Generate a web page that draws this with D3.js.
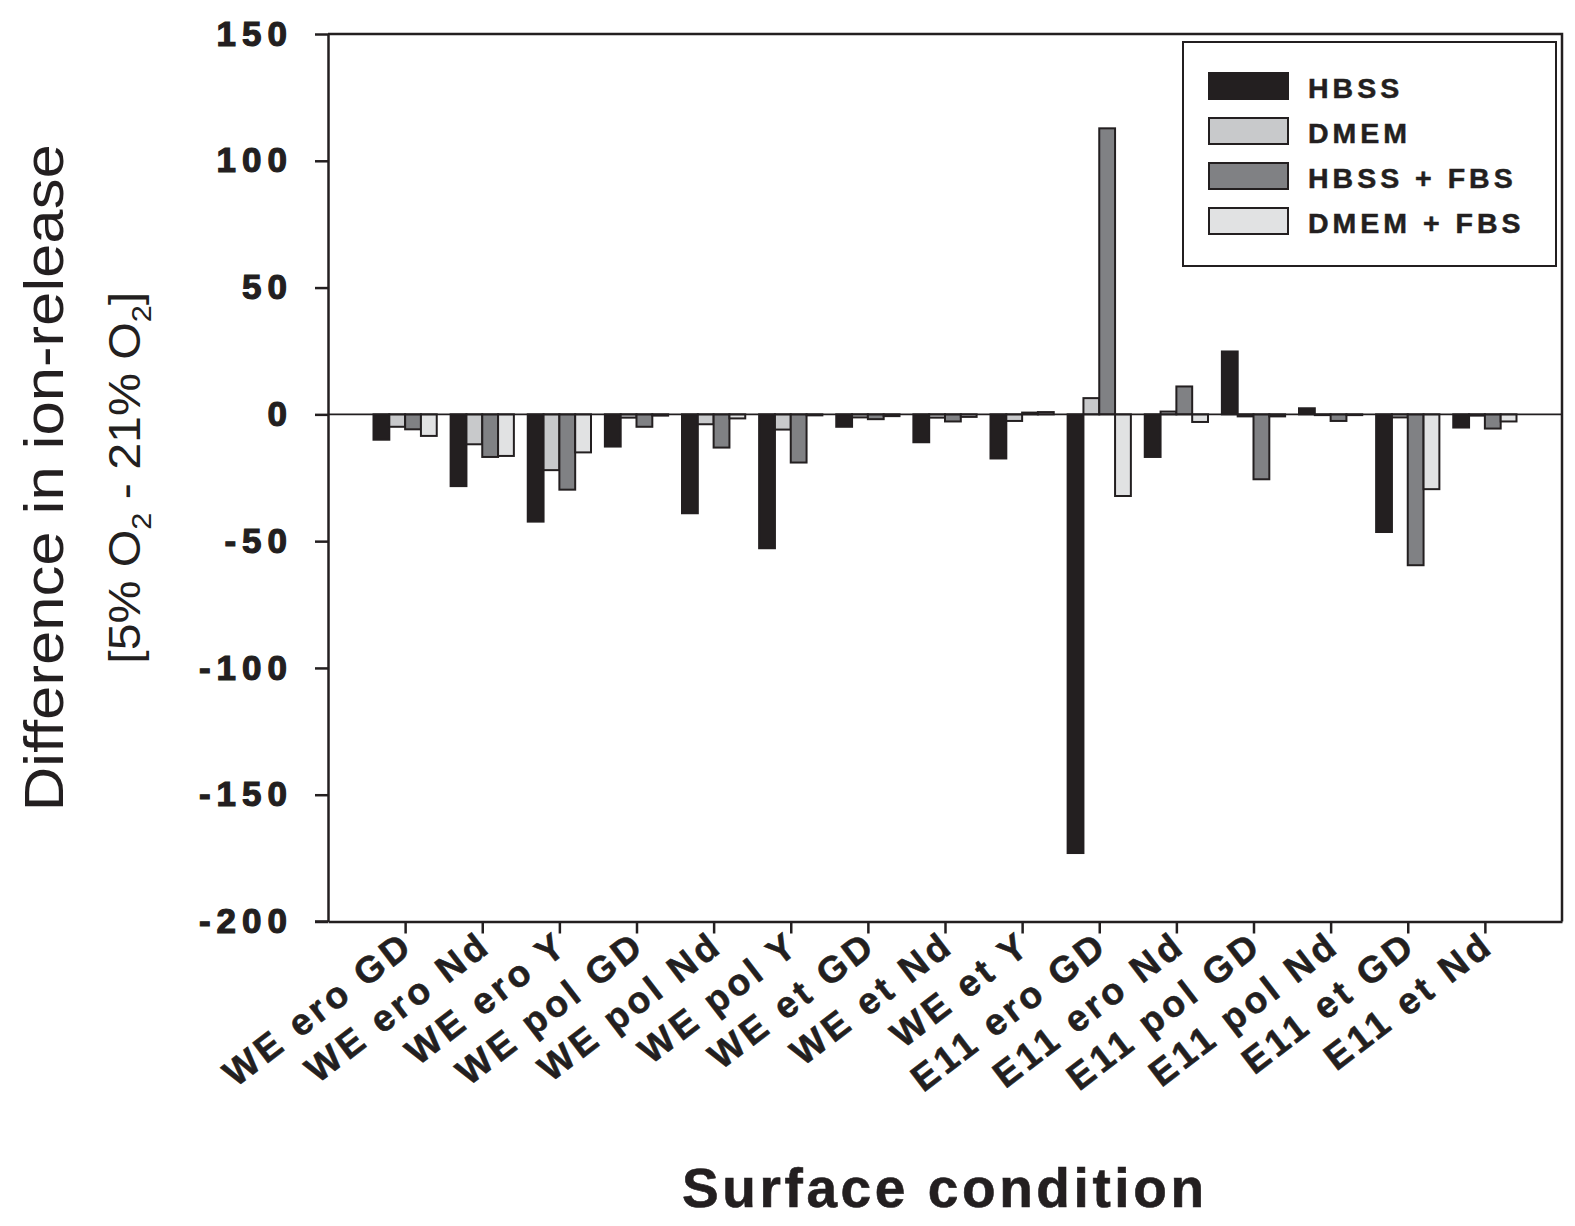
<!DOCTYPE html>
<html>
<head>
<meta charset="utf-8">
<script src="https://cdn.jsdelivr.net/npm/d3@7"></script>
<style>
  body { margin: 0; background: #fff; }
  svg text { fill: #231f20; }
</style>
</head>
<body>
<div id="chart"></div>
<script>
// categories (surface condition)
const categories = ['WE ero GD', 'WE ero Nd', 'WE ero Y', 'WE pol GD', 'WE pol Nd', 'WE pol Y',
  'WE et GD', 'WE et Nd', 'WE et Y', 'E11 ero GD', 'E11 ero Nd', 'E11 pol GD', 'E11 pol Nd',
  'E11 et GD', 'E11 et Nd'];

const seriesNames = ['HBSS', 'DMEM', 'HBSS + FBS', 'DMEM + FBS'];
const seriesColors = ['#231f20', '#c8c9cb', '#808184', '#e1e2e3'];

// difference in ion release
const hbss     = [-10, -28.3, -42.3, -12.7, -39, -52.8, -4.9, -11, -17.4, -173, -16.8, 24.8, 2.4, -46.4, -5.2];
const dmem     = [-4.9, -11.8, -22, -1.3, -3.9, -6, -1.2, -1.3, -2.6, 6.4, 1.1, -0.8, -0.3, -1.2, -0.5];
const hbssFbs  = [-5.9, -16.8, -29.7, -4.9, -13.1, -19, -1.9, -2.8, 0.7, 112.8, 11, -25.6, -2.6, -59.5, -5.6];
const dmemFbs  = [-8.5, -16.4, -15, -0.5, -1.6, -0.4, -0.7, -1, 0.9, -32.2, -3, -0.8, -0.3, -29.5, -2.8];

const yTicks = [150, 100, 50, 0, -50, -100, -150, -200];

const seriesValues = [hbss, dmem, hbssFbs, dmemFbs];

// lienzo
const width = 1575, height = 1226;
const plotLeft = 328, plotRight = 1562, plotTop = 34, plotBottom = 921.5;

const svg = d3.select('#chart').append('svg')
  .attr('width', width)
  .attr('height', height)
  .style('font-family', '"Liberation Sans", Arial, sans-serif');

// scales
const xScale = d3.scaleLinear().domain([0, categories.length + 1]).range([plotLeft, plotRight]);
const yScale = d3.scaleLinear().domain([-200, 150]).range([plotBottom, plotTop]);

const slot = xScale(1) - xScale(0);
const xSub = d3.scaleBand().domain(seriesNames).range([-slot * 0.41, slot * 0.41]);

// bars
seriesValues.forEach((vals, s) => {
  svg.append('g')
    .selectAll('rect')
    .data(vals)
    .enter()
    .append('rect')
    .attr('x', (d, i) => xScale(i + 1) + xSub(seriesNames[s]))
    .attr('width', xSub.bandwidth())
    .attr('y', d => yScale(Math.max(0, d)))
    .attr('height', d => Math.abs(yScale(d) - yScale(0)))
    .attr('fill', seriesColors[s])
    .attr('stroke', '#231f20')
    .attr('stroke-width', 2);
});

// zero line
svg.append('line')
  .attr('x1', plotLeft).attr('x2', plotRight)
  .attr('y1', yScale(0)).attr('y2', yScale(0))
  .attr('stroke', '#231f20').attr('stroke-width', 1.8);

// frame (top and right)
svg.append('path')
  .attr('d', `M${plotLeft},${plotTop}H${plotRight}V${plotBottom}`)
  .attr('fill', 'none').attr('stroke', '#231f20').attr('stroke-width', 2.5);

// eje y
const yAxis = d3.axisLeft(yScale)
  .tickValues(yTicks)
  .tickFormat(d => String(d))
  .tickSize(13).tickSizeOuter(0).tickPadding(22);
const gy = svg.append('g').attr('transform', `translate(${plotLeft},0)`).call(yAxis);
gy.select('.domain').attr('stroke', '#231f20').attr('stroke-width', 2.5);
gy.selectAll('.tick line').attr('stroke', '#231f20').attr('stroke-width', 2.5);
gy.selectAll('.tick text')
  .attr('font-size', 35)
  .attr('font-weight', 'bold')
  .attr('letter-spacing', 6)
  .attr('fill', '#231f20')
  .attr('stroke', '#231f20')
  .attr('stroke-width', 1.2);

// eje x
const xAxis = d3.axisBottom(xScale)
  .tickValues(d3.range(1, categories.length + 1))
  .tickFormat(i => categories[i - 1])
  .tickSize(12).tickSizeOuter(0);
const gx = svg.append('g').attr('transform', `translate(0,${plotBottom})`).call(xAxis);
gx.select('.domain').attr('stroke', '#231f20').attr('stroke-width', 2.5);
gx.selectAll('.tick line').attr('stroke', '#231f20').attr('stroke-width', 2.5);
gx.selectAll('.tick text')
  .attr('x', 0).attr('y', 0).attr('dy', '0.72em')
  .attr('transform', 'translate(-6,7) rotate(-37.5)')
  .attr('text-anchor', 'end')
  .attr('font-size', 37)
  .attr('font-weight', 'bold')
  .attr('letter-spacing', 3.8)
  .attr('fill', '#231f20')
  .attr('stroke', '#231f20')
  .attr('stroke-width', 0.6);
// extend bottom axis to the left tick like the original
svg.append('line')
  .attr('x1', plotLeft - 13).attr('x2', plotLeft)
  .attr('y1', plotBottom).attr('y2', plotBottom)
  .attr('stroke', '#231f20').attr('stroke-width', 2.5);

// titulos
svg.append('text')
  .attr('x', 943).attr('y', 1207)
  .attr('text-anchor', 'middle')
  .attr('font-size', 55)
  .attr('font-weight', 'bold')
  .attr('textLength', 522)
  .attr('lengthAdjust', 'spacing')
  .attr('stroke', '#231f20')
  .attr('stroke-width', 0.6)
  .text('Surface condition');

const midY = (plotTop + plotBottom) / 2;
svg.append('text')
  .attr('transform', `translate(63,${midY}) rotate(-90)`)
  .attr('text-anchor', 'middle')
  .attr('font-size', 55)
  .attr('textLength', 667)
  .attr('lengthAdjust', 'spacingAndGlyphs')
  .text('Difference in ion-release');

const sub = svg.append('text')
  .attr('transform', `translate(140,${midY}) rotate(-90)`)
  .attr('text-anchor', 'middle')
  .attr('font-size', 44)
  .attr('textLength', 372)
  .attr('lengthAdjust', 'spacingAndGlyphs');
sub.append('tspan').text('[5% O');
sub.append('tspan').attr('dy', 11).attr('font-size', 28).text('2');
sub.append('tspan').attr('dy', -11).text(' - 21% O');
sub.append('tspan').attr('dy', 11).attr('font-size', 28).text('2');
sub.append('tspan').attr('dy', -11).text(']');

// leyenda
const legend = svg.append('g');
legend.append('rect')
  .attr('x', 1183).attr('y', 42).attr('width', 373).attr('height', 224)
  .attr('fill', '#fff').attr('stroke', '#231f20').attr('stroke-width', 2);

const legendY = d3.scalePoint().domain(seriesNames).range([73, 208]);
seriesNames.forEach((name, s) => {
  legend.append('rect')
    .attr('x', 1209).attr('y', legendY(name))
    .attr('width', 79).attr('height', 26)
    .attr('fill', seriesColors[s])
    .attr('stroke', '#231f20').attr('stroke-width', 2);
  legend.append('text')
    .attr('x', 1308).attr('y', legendY(name) + 25)
    .attr('font-size', 28.5)
    .attr('font-weight', 'bold')
    .attr('letter-spacing', 4)
    .attr('stroke', '#231f20')
    .attr('stroke-width', 0.5)
    .text(name);
});
</script>
</body>
</html>
